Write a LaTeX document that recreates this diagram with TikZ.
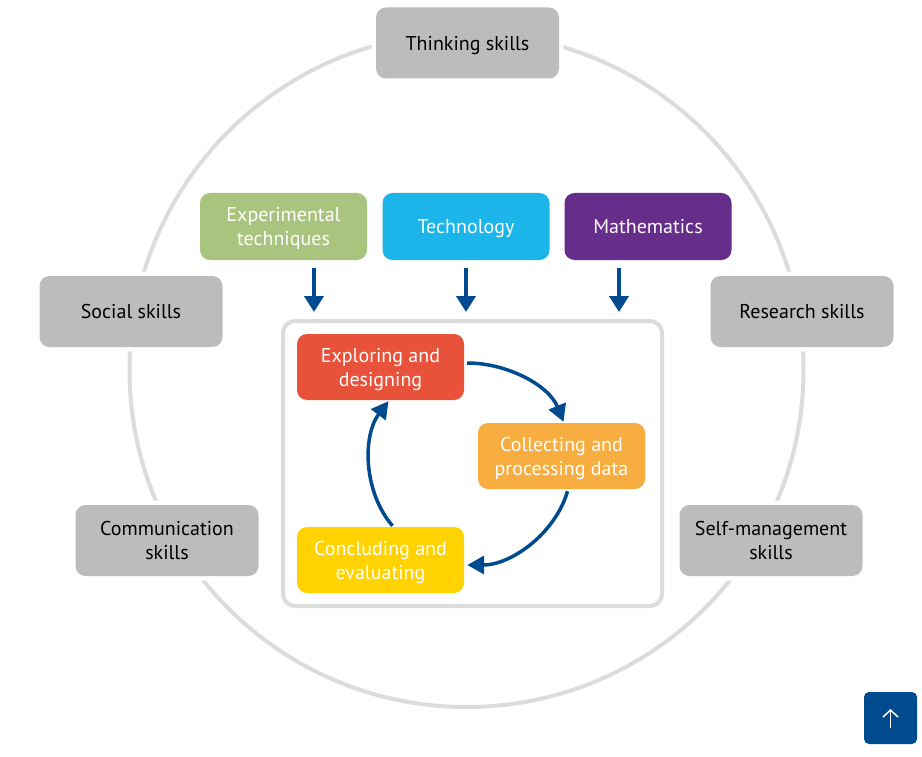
\documentclass[tikz,border=0pt]{standalone}
\usepackage{fontspec}
\setmainfont{PT Sans}
\usetikzlibrary{arrows.meta}
\definecolor{ringgray}{HTML}{DCDCDC}
\definecolor{boxgray}{HTML}{BBBCBE}
\definecolor{expgreen}{HTML}{A9C47F}
\definecolor{techblue}{HTML}{1BB5E9}
\definecolor{mathpurple}{HTML}{662D8A}
\definecolor{redbox}{HTML}{E8523A}
\definecolor{orangebox}{HTML}{F7AD3F}
\definecolor{yellowbox}{HTML}{FFD200}
\definecolor{navy}{HTML}{004A8F}
\begin{document}
\begin{tikzpicture}[x=1pt,y=-1pt,
  boxfont/.style={font=\fontsize{20pt}{24pt}\selectfont, text depth=0pt},
  skill/.style={rounded corners=10pt, fill=boxgray, minimum width=183pt, minimum height=71pt,
    align=center, boxfont, text=black,
    preaction={draw=white, line width=9pt}},
  area/.style={rounded corners=10pt, minimum width=167pt, minimum height=67pt,
    align=center, boxfont, text=white},
  stage/.style={rounded corners=10pt, minimum width=167pt, minimum height=66pt,
    align=center, boxfont, text=white},
  down/.style={draw=navy, line width=4.5pt, -{Triangle[length=16pt,width=19pt]}},
  flow/.style={draw=navy, line width=3.5pt, -{Triangle[length=17pt,width=18pt]}}
]
\useasboundingbox (0,0) rectangle (922,757);
\fill[white] (0,0) rectangle (922,757);
% ring
\draw[ringgray, line width=4pt] (466.5,370) circle[radius=337pt];
% skill boxes
\node[skill] (think) at (467.5,43) {Thinking skills};
\node[skill] (social) at (131,311.5) {Social skills};
\node[skill] (research) at (802,311.5) {Research skills};
\node[skill] (comm) at (167,540.5) {Communication\\skills};
\node[skill] (self) at (771,540.5) {Self-management\\skills};
% area boxes
\node[area, fill=expgreen] (exp) at (283.5,226.5) {Experimental\\techniques};
\node[area, fill=techblue] (tech) at (466,226.5) {Technology};
\node[area, fill=mathpurple] (math) at (648,226.5) {Mathematics};
% frame
\node[draw=ringgray, line width=4pt, rounded corners=12pt, minimum width=379pt, minimum height=285pt] (frame) at (472.5,463.5) {};
% stage boxes
\node[stage, fill=redbox] (explore) at (380.5,367) {Exploring and\\designing};
\node[stage, fill=orangebox] (collect) at (561.5,456) {Collecting and\\processing data};
\node[stage, fill=yellowbox] (conclude) at (380.5,560) {Concluding and\\evaluating};
% down arrows
\foreach \n/\xx in {exp/314, tech/466, math/619}{
  \draw[down] ([yshift=-8pt]\n.south -| \xx,0) -- ([yshift=7pt]frame.north -| \xx,0);
}
% cycle arrows
\draw[flow] ([xshift=3pt,yshift=4pt]explore.east) to[out=0,in=112,looseness=0.9] ([xshift=2pt,yshift=1pt]collect.north);
\draw[flow] ([xshift=6pt,yshift=-2pt]collect.south) to[out=-106,in=0,looseness=0.9] ([xshift=3pt,yshift=-5pt]conclude.east);
\draw[flow] ([xshift=12pt,yshift=1pt]conclude.north) to[out=131,in=233,looseness=0.9] ([xshift=8pt,yshift=-1pt]explore.south);
% up button
\node[fill=navy, rounded corners=5pt, minimum width=53pt, minimum height=52pt] (upbtn) at (890.5,718) {};
\draw[white, line width=1.5pt, -{Straight Barb[length=7pt,width=15pt]}] ([yshift=-10pt]upbtn.center) -- ([yshift=9pt]upbtn.center);
\end{tikzpicture}
\end{document}
